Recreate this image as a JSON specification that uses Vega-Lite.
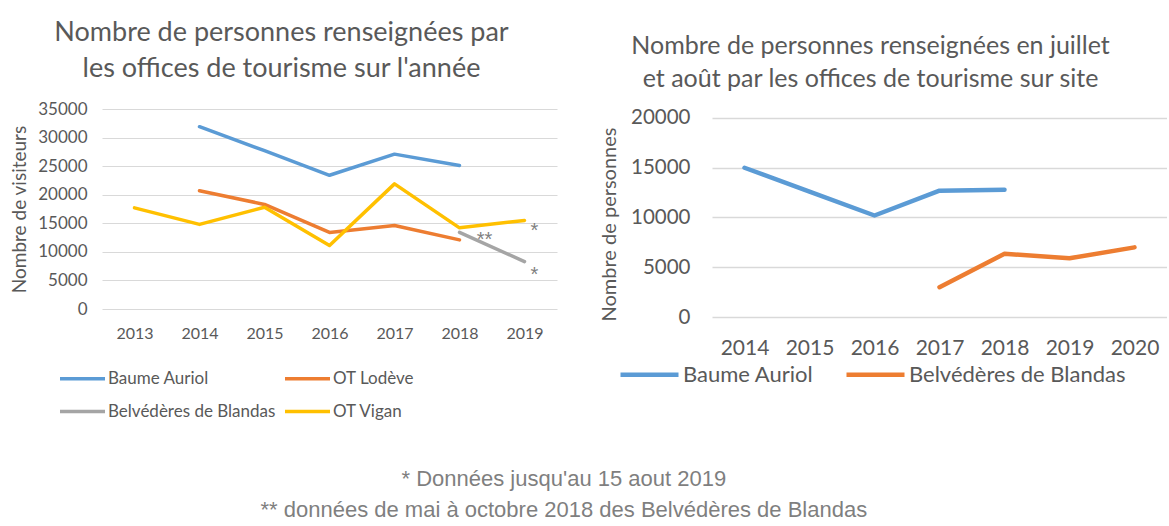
{
  "$schema": "https://vega.github.io/schema/vega-lite/v6.json",
  "background": "white",
  "padding": {"left": 10, "top": 19, "right": 0, "bottom": 0},
  "datasets": {
    "annee": [
      {"year": "2014", "series": "Baume Auriol", "value": 31900},
      {"year": "2015", "series": "Baume Auriol", "value": 27700},
      {"year": "2016", "series": "Baume Auriol", "value": 23400},
      {"year": "2017", "series": "Baume Auriol", "value": 27100},
      {"year": "2018", "series": "Baume Auriol", "value": 25100},
      {"year": "2014", "series": "OT Lodève", "value": 20700},
      {"year": "2015", "series": "OT Lodève", "value": 18300},
      {"year": "2016", "series": "OT Lodève", "value": 13400},
      {"year": "2017", "series": "OT Lodève", "value": 14600},
      {"year": "2018", "series": "OT Lodève", "value": 12100},
      {"year": "2018", "series": "Belvédères de Blandas", "value": 13400},
      {"year": "2019", "series": "Belvédères de Blandas", "value": 8300},
      {"year": "2013", "series": "OT Vigan", "value": 17700},
      {"year": "2014", "series": "OT Vigan", "value": 14800},
      {"year": "2015", "series": "OT Vigan", "value": 17800},
      {"year": "2016", "series": "OT Vigan", "value": 11100},
      {"year": "2017", "series": "OT Vigan", "value": 21900},
      {"year": "2018", "series": "OT Vigan", "value": 14200},
      {"year": "2019", "series": "OT Vigan", "value": 15500}
    ],
    "notes": [
      {"year": "2019", "value": 13650, "label": "*"},
      {"year": "2019", "value": 5950, "label": "*"},
      {"year": "2018", "value": 12100, "label": "**"}
    ],
    "ete": [
      {"year": "2014", "series": "Baume Auriol", "value": 15000},
      {"year": "2015", "series": "Baume Auriol", "value": 12600},
      {"year": "2016", "series": "Baume Auriol", "value": 10200},
      {"year": "2017", "series": "Baume Auriol", "value": 12700},
      {"year": "2018", "series": "Baume Auriol", "value": 12800},
      {"year": "2017", "series": "Belvédères de Blandas", "value": 3000},
      {"year": "2018", "series": "Belvédères de Blandas", "value": 6350},
      {"year": "2019", "series": "Belvédères de Blandas", "value": 5900},
      {"year": "2020", "series": "Belvédères de Blandas", "value": 7000}
    ]
  },
  "title": {
    "text": ["* Données jusqu'au 15 aout 2019", "** données de mai à octobre 2018 des Belvédères de Blandas"],
    "orient": "bottom",
    "anchor": "middle",
    "font": "Liberation Sans",
    "fontSize": 22,
    "fontWeight": "normal",
    "color": "#7f7f7f",
    "lineHeight": 31,
    "offset": 49,
    "dx": -25
  },
  "hconcat": [
    {
      "width": 455,
      "height": 200,
      "title": {
        "text": ["Nombre de personnes renseignées par", "les offices de tourisme sur l'année"],
        "font": "Lato",
        "fontSize": 27,
        "fontWeight": "normal",
        "color": "#595959",
        "lineHeight": 36,
        "anchor": "middle",
        "frame": "group",
        "dx": -48,
        "offset": 17
      },
      "layer": [
        {
          "data": {"name": "annee"},
          "mark": {"type": "line", "strokeWidth": 3.5, "strokeCap": "round", "strokeJoin": "round"},
          "encoding": {
            "x": {
              "field": "year", "type": "ordinal",
              "scale": {"type": "point", "padding": 0.5, "domain": ["2013","2014","2015","2016","2017","2018","2019"]},
              "axis": {"title": null, "labelAngle": 0, "grid": false, "domain": false, "ticks": false, "tickSize": 0,
                       "labelPadding": 16, "labelFont": "Lato", "labelFontSize": 16, "labelColor": "#595959"}
            },
            "y": {
              "field": "value", "type": "quantitative",
              "scale": {"domain": [0, 35000], "nice": false},
              "axis": {"title": "Nombre de visiteurs", "values": [0,5000,10000,15000,20000,25000,30000,35000], "tickCount": 10,
                       "format": "d", "labelOverlap": false, "grid": true, "gridColor": "#d9d9d9", "domain": false, "ticks": false, "tickSize": 0,
                       "labelPadding": 15, "labelFont": "Lato", "labelFontSize": 17, "labelColor": "#595959",
                       "titleFont": "Lato", "titleFontSize": 19, "titleFontWeight": "normal", "titleColor": "#595959", "titlePadding": 8}
            },
            "color": {
              "field": "series", "type": "nominal",
              "scale": {"domain": ["Baume Auriol", "OT Lodève", "Belvédères de Blandas", "OT Vigan"],
                        "range": ["#5B9BD5", "#ED7D31", "#A5A5A5", "#FFC000"]},
              "legend": {"title": null, "orient": "none", "legendX": -44, "legendY": 245, "columns": 2,
                         "direction": "horizontal", "symbolType": "M-1,0L1,0", "symbolSize": 2025, "symbolStrokeWidth": 3.5,
                         "labelFont": "Lato", "labelFontSize": 17, "labelColor": "#595959", "labelOffset": 1, "labelLimit": 400,
                         "rowPadding": -21, "columnPadding": 2, "padding": 0}
            }
          }
        },
        {
          "data": {"name": "notes"},
          "transform": [{"filter": "datum.label === '*'"}],
          "mark": {"type": "text", "dx": 10, "font": "Liberation Sans", "fontSize": 20, "color": "#7f7f7f", "baseline": "middle"},
          "encoding": {
            "x": {"field": "year", "type": "ordinal"},
            "y": {"field": "value", "type": "quantitative"},
            "text": {"field": "label"}
          }
        },
        {
          "data": {"name": "notes"},
          "transform": [{"filter": "datum.label === '**'"}],
          "mark": {"type": "text", "dx": 25, "font": "Liberation Sans", "fontSize": 20, "color": "#7f7f7f", "baseline": "middle"},
          "encoding": {
            "x": {"field": "year", "type": "ordinal"},
            "y": {"field": "value", "type": "quantitative"},
            "text": {"field": "label"}
          }
        }
      ]
    },
    {
      "width": 455,
      "height": 208,
      "title": {
        "text": ["Nombre de personnes renseignées en juillet", "et août par les offices de tourisme sur site"],
        "font": "Lato",
        "fontSize": 25,
        "fontWeight": "normal",
        "color": "#595959",
        "lineHeight": 33,
        "anchor": "middle",
        "frame": "group",
        "dx": -69,
        "offset": 16
      },
      "data": {"name": "ete"},
      "mark": {"type": "line", "strokeWidth": 4.5, "strokeCap": "round", "strokeJoin": "round"},
      "encoding": {
        "x": {
          "field": "year", "type": "ordinal",
          "scale": {"type": "point", "padding": 0.5, "domain": ["2014","2015","2016","2017","2018","2019","2020"]},
          "axis": {"title": null, "labelAngle": 0, "grid": false, "domain": false, "ticks": false, "tickSize": 0,
                   "labelPadding": 20, "labelFont": "Lato", "labelFontSize": 21, "labelColor": "#595959"}
        },
        "y": {
          "field": "value", "type": "quantitative",
          "scale": {"domain": [0, 20904], "nice": false},
          "axis": {"title": "Nombre de personnes", "values": [0,5000,10000,15000,20000], "tickCount": 10,
                   "format": "d", "labelOverlap": false, "grid": true, "gridColor": "#d9d9d9", "gridWidth": 1.5, "domain": false, "ticks": false, "tickSize": 0,
                   "labelPadding": 22, "labelFont": "Lato", "labelFontSize": 20.5, "labelColor": "#595959",
                   "titleFont": "Lato", "titleFontSize": 20, "titleFontWeight": "normal", "titleColor": "#595959", "titlePadding": 11, "titleY": 115}
        },
        "color": {
          "field": "series", "type": "nominal",
          "scale": {"domain": ["Baume Auriol", "Belvédères de Blandas"], "range": ["#5B9BD5", "#ED7D31"]},
          "legend": {"title": null, "orient": "none", "legendX": -94, "legendY": 234, "columns": 2,
                     "direction": "horizontal", "symbolType": "M-1,0L1,0", "symbolSize": 3364, "symbolStrokeWidth": 4.5,
                     "labelFont": "Lato", "labelFontSize": 22, "labelColor": "#595959", "labelOffset": 2, "labelLimit": 400,
                     "columnPadding": 23, "padding": 0}
        }
      }
    }
  ],
  "spacing": 155,
  "bounds": "flush",
  "resolve": {"scale": {"x": "independent", "y": "independent", "color": "independent"}, "legend": {"color": "independent"}},
  "config": {"view": {"stroke": null}}
}
